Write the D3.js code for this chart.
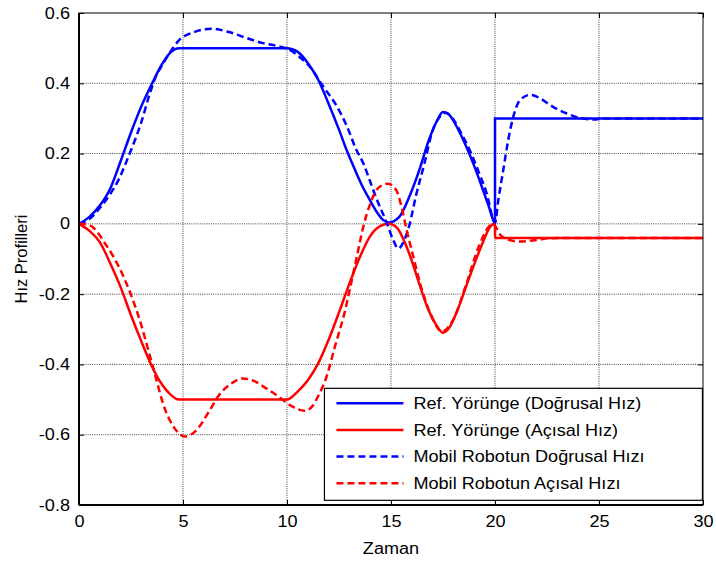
<!DOCTYPE html>
<html>
<head>
<meta charset="utf-8">
<script src="https://cdn.jsdelivr.net/npm/d3@7"></script>
<style>
  body { margin: 0; background: #fff; }
  svg { font-family: Arial, "Liberation Sans", sans-serif; }
  .tick text { font-size: 16px; fill: #000; }
  .grid line { stroke: #444; stroke-dasharray: 1,1.2; stroke-width: 1; }
</style>
</head>
<body>
<svg id="chart" width="716" height="563"></svg>
<script>
// x ekseni: zaman, y ekseni: hız
const xTicks = [0, 5, 10, 15, 20, 25, 30];
const yTicks = [0.6, 0.4, 0.2, 0, -0.2, -0.4, -0.6, -0.8];

const legendLabels = [
    "Ref. Yörünge (Doğrusal Hız)",
    "Ref. Yörünge (Açısal Hız)",
    "Mobil Robotun Doğrusal Hızı",
    "Mobil Robotun Açısal Hızı"
];

// Ref. Yörünge (Doğrusal Hız)
const refLinear = [
    [0, 0], [0.5, 0.02], [1, 0.052], [1.5, 0.1], [2, 0.178], [2.5, 0.26], [3, 0.335],
    [3.5, 0.398], [4, 0.455], [4.4, 0.488], [4.8, 0.5], [10, 0.5], [10.5, 0.49],
    [11, 0.458], [11.5, 0.41], [12, 0.342], [12.5, 0.268], [12.9, 0.205], [13.2, 0.163],
    [13.6, 0.11], [14, 0.066], [14.3, 0.035], [14.6, 0.012], [14.9, 0.004], [15.4, 0.02],
    [15.9, 0.08], [16.4, 0.16], [16.8, 0.235], [17.2, 0.292], [17.5, 0.318], [17.8, 0.31],
    [18.2, 0.272], [18.6, 0.222], [19, 0.165], [19.4, 0.1], [19.7, 0.05], [20, 0.003],
    [20.001, 0.3], [30, 0.3]
];

// Ref. Yörünge (Açısal Hız)
const refAngular = [
    [0, 0], [0.5, -0.02], [1, -0.052], [1.5, -0.112], [2, -0.18], [2.5, -0.26], [3, -0.335],
    [3.5, -0.405], [4, -0.458], [4.4, -0.486], [4.8, -0.5], [10, -0.5], [10.5, -0.478],
    [11, -0.445], [11.5, -0.397], [12, -0.33], [12.5, -0.252], [13, -0.17], [13.5, -0.095],
    [14, -0.035], [14.5, -0.006], [14.9, 0], [15.3, -0.012], [15.7, -0.058], [16, -0.105],
    [16.4, -0.178], [16.8, -0.245], [17.2, -0.29], [17.5, -0.31], [17.8, -0.296],
    [18.2, -0.245], [18.6, -0.18], [19, -0.115], [19.4, -0.055], [19.8, -0.006], [20, 0],
    [20.001, -0.04], [30, -0.04]
];

// Mobil Robotun Doğrusal Hızı
const robotLinear = [
    [0, 0], [0.5, 0.014], [1, 0.045], [1.5, 0.085], [1.9, 0.125], [2.3, 0.18], [2.7, 0.24],
    [3, 0.29], [3.4, 0.37], [3.7, 0.42], [4, 0.452], [4.4, 0.49], [4.8, 0.522], [5.5, 0.545],
    [6.4, 0.555], [7.2, 0.546], [8, 0.53], [8.8, 0.515], [9.6, 0.505], [10.1, 0.496],
    [10.6, 0.475], [11.1, 0.447], [11.75, 0.39], [12.4, 0.334], [12.9, 0.275], [13.3, 0.215],
    [13.7, 0.168], [14, 0.12], [14.3, 0.072], [14.8, 0.002], [15.1, -0.045], [15.35, -0.07],
    [15.65, -0.045], [15.9, 0], [16.2, 0.08], [16.6, 0.17], [17, 0.265], [17.35, 0.305],
    [17.65, 0.316], [18, 0.297], [18.4, 0.255], [18.8, 0.208], [19.2, 0.15], [19.6, 0.087],
    [20, 0.003], [20.16, 0.068], [20.4, 0.154], [20.64, 0.24], [20.88, 0.305], [21.2, 0.352],
    [21.7, 0.367], [22.2, 0.356], [22.6, 0.34], [23, 0.326], [23.45, 0.314], [24.1, 0.301],
    [24.7, 0.297], [25.3, 0.3], [30, 0.3]
];

// Mobil Robotun Açısal Hızı
const robotAngular = [
    [0, 0], [0.5, -0.004], [1.3, -0.06], [2.1, -0.145], [2.9, -0.27], [3.5, -0.395],
    [4.15, -0.53], [4.6, -0.582], [5.1, -0.605], [5.6, -0.59], [6.25, -0.534], [6.7, -0.49],
    [7.3, -0.455], [7.85, -0.44], [8.4, -0.447], [9, -0.468], [9.6, -0.492], [10.2, -0.518],
    [10.85, -0.532], [11.2, -0.52], [11.5, -0.49], [11.9, -0.435], [12.3, -0.35],
    [12.8, -0.245], [13.05, -0.178], [13.35, -0.095], [13.67, -0.008], [14, 0.057],
    [14.4, 0.103], [14.85, 0.114], [15.25, 0.096], [15.5, 0.05], [15.75, -0.017],
    [16.07, -0.093], [16.4, -0.17], [16.9, -0.256], [17.45, -0.306], [18, -0.272],
    [18.6, -0.175], [19.25, -0.06], [19.9, 0], [20.25, -0.031], [20.6, -0.045],
    [21.2, -0.05], [22, -0.046], [22.6, -0.041], [23.2, -0.04], [30, -0.04]
];

const svg = d3.select("#chart");
const margin = { top: 13, right: 13, bottom: 58, left: 79 };
const width = +svg.attr("width") - margin.left - margin.right;
const height = +svg.attr("height") - margin.top - margin.bottom;

svg.append("rect").attr("width", 716).attr("height", 563).attr("fill", "#fff");

const g = svg.append("g").attr("transform", `translate(${margin.left},${margin.top})`);

const x = d3.scaleLinear().domain([0, 30]).range([0, width]);
const y = d3.scaleLinear().domain([-0.8, 0.6]).range([height, 0]);

// Izgara
const grid = g.append("g").attr("class", "grid");
grid.selectAll(".gx")
    .data(xTicks.slice(1, -1))
    .enter().append("line")
    .attr("x1", d => x(d)).attr("x2", d => x(d))
    .attr("y1", 0).attr("y2", height);
grid.selectAll(".gy")
    .data(yTicks.slice(1, -1))
    .enter().append("line")
    .attr("x1", 0).attr("x2", width)
    .attr("y1", d => y(d)).attr("y2", d => y(d));

// Eksenler (işaretler içe doğru)
const fmt = d => d === 0 ? "0" : d3.format(".1f")(d).replace("−", "-");

g.append("g")
    .attr("transform", `translate(0,${height})`)
    .call(d3.axisBottom(x).tickValues(xTicks).tickSize(-5).tickPadding(11).tickFormat(d3.format("d")))
    .call(a => a.select(".domain").remove());
g.append("g")
    .call(d3.axisTop(x).tickValues(xTicks).tickSize(-5).tickFormat(""))
    .call(a => a.select(".domain").remove());
g.append("g")
    .call(d3.axisLeft(y).tickValues(yTicks).tickSize(-5).tickPadding(9).tickFormat(fmt))
    .call(a => a.select(".domain").remove());
g.append("g")
    .attr("transform", `translate(${width},0)`)
    .call(d3.axisRight(y).tickValues(yTicks).tickSize(-5).tickFormat(""))
    .call(a => a.select(".domain").remove());

g.selectAll(".tick line").attr("stroke", "#000");

// Çizgiler
const line = d3.line()
    .x(d => x(d[0]))
    .y(d => y(d[1]))
    .curve(d3.curveMonotoneX);

const series = [
    { data: refLinear, color: "#0000ff", dash: null },
    { data: refAngular, color: "#ff0000", dash: null },
    { data: robotLinear, color: "#0000ff", dash: "7,4" },
    { data: robotAngular, color: "#ff0000", dash: "7,4" }
];

const plot = g.append("g");
plot.selectAll("path")
    .data(series)
    .enter().append("path")
    .attr("d", d => line(d.data))
    .attr("fill", "none")
    .attr("stroke", d => d.color)
    .attr("stroke-width", 2.5)
    .attr("stroke-dasharray", d => d.dash);

// Çerçeve
g.append("rect")
    .attr("width", width).attr("height", height)
    .attr("fill", "none").attr("stroke", "#000").attr("stroke-width", 1);
g.append("line").attr("x1", 0).attr("x2", 0).attr("y1", 0).attr("y2", height)
    .attr("stroke", "#000").attr("stroke-width", 2);
g.append("line").attr("x1", 0).attr("x2", width).attr("y1", height).attr("y2", height)
    .attr("stroke", "#000").attr("stroke-width", 2);

// Lejant
const legend = g.append("g").attr("transform", `translate(${x(11.8)},${y(-0.468)})`);
legend.append("rect")
    .attr("width", 378).attr("height", 112)
    .attr("fill", "#fff").attr("stroke", "#000").attr("stroke-width", 1.2);
const items = legend.selectAll(".item")
    .data(series)
    .enter().append("g")
    .attr("transform", (d, i) => `translate(0,${15 + i * 26.6})`);
items.append("line")
    .attr("x1", 12).attr("x2", 79)
    .attr("stroke", d => d.color)
    .attr("stroke-width", 2.5)
    .attr("stroke-dasharray", d => d.dash);
items.append("text")
    .attr("x", 89).attr("dy", "0.35em")
    .style("font-size", "16px")
    .text((d, i) => legendLabels[i]);

// Eksen başlıkları
svg.append("text")
    .attr("class", "xlabel")
    .attr("x", margin.left + width / 2).attr("y", 554)
    .attr("text-anchor", "middle").style("font-size", "16px")
    .text("Zaman");
svg.append("text")
    .attr("transform", `translate(27,${margin.top + height / 2}) rotate(-90)`)
    .attr("text-anchor", "middle").style("font-size", "16.5px")
    .text("Hız Profilleri");

// Şekildeki yazılar yatayda biraz geniş, aynı oranda uzat
svg.selectAll(".tick text, .xlabel, g text").each(function () {
    const len = this.getComputedTextLength();
    if (len > 0) {
        d3.select(this)
            .attr("textLength", len * 1.13)
            .attr("lengthAdjust", "spacingAndGlyphs");
    }
});
</script>
</body>
</html>
